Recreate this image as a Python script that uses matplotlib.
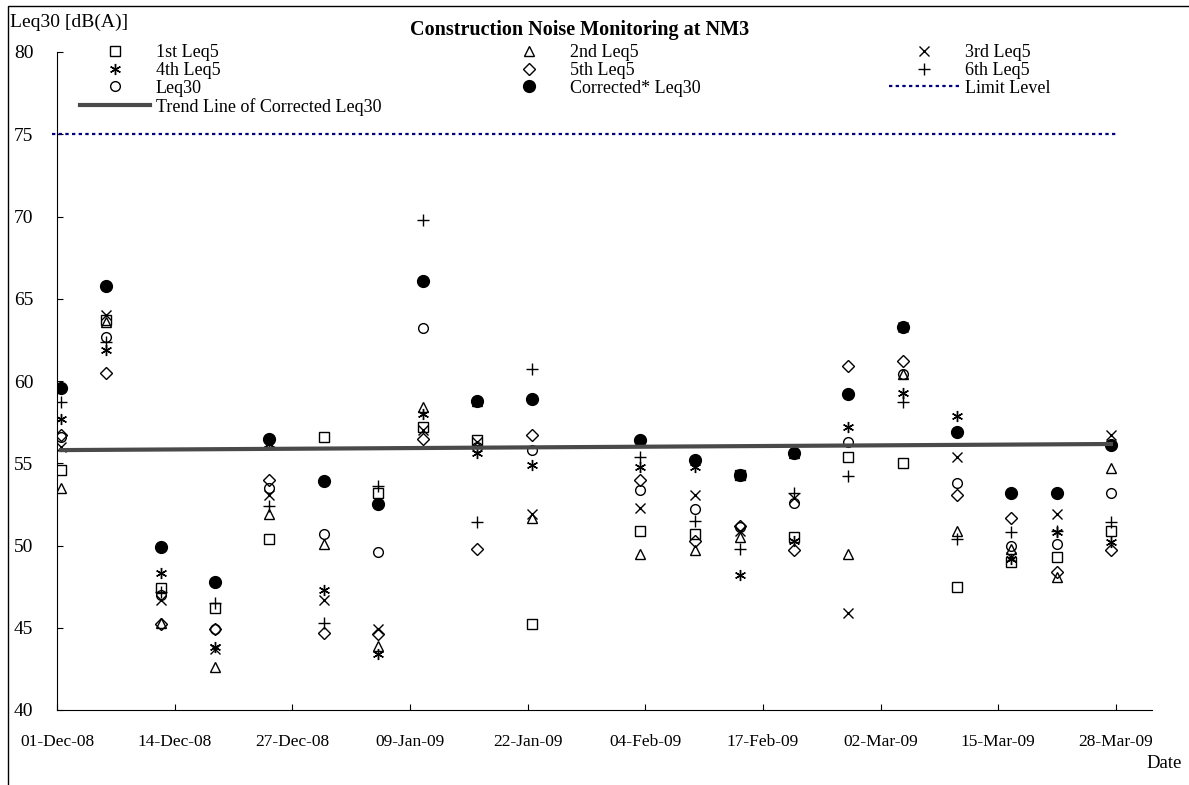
import datetime as dt
import matplotlib
matplotlib.use('Agg')
from matplotlib import pyplot as plt
import matplotlib.dates as mdates
from matplotlib.patches import Rectangle

plt.rcParams['font.family'] = ['Liberation Serif', 'DejaVu Serif']

# monitoring dates (readings taken late morning)
dates = [dt.datetime(2008, 12, 1, 11), dt.datetime(2008, 12, 6, 11), dt.datetime(2008, 12, 12, 11),
         dt.datetime(2008, 12, 18, 11), dt.datetime(2008, 12, 24, 11), dt.datetime(2008, 12, 30, 11),
         dt.datetime(2009, 1, 5, 11), dt.datetime(2009, 1, 10, 11), dt.datetime(2009, 1, 16, 11),
         dt.datetime(2009, 1, 22, 11), dt.datetime(2009, 2, 3, 11), dt.datetime(2009, 2, 9, 11),
         dt.datetime(2009, 2, 14, 11), dt.datetime(2009, 2, 20, 11), dt.datetime(2009, 2, 26, 11),
         dt.datetime(2009, 3, 4, 11), dt.datetime(2009, 3, 10, 11), dt.datetime(2009, 3, 16, 11),
         dt.datetime(2009, 3, 21, 11), dt.datetime(2009, 3, 27, 11)]

leq5_1 = [54.6, 63.7, 47.4, 46.2, 50.4, 56.6, 53.2, 57.2, 56.4, 45.2,
          50.9, 50.7, 54.3, 50.5, 55.4, 55.0, 47.5, 49.0, 49.3, 50.9]
leq5_2 = [53.5, 63.6, 45.3, 42.6, 51.9, 50.1, 43.9, 58.4, 58.8, 51.7,
          49.5, 49.7, 50.5, 55.6, 49.5, 60.4, 50.9, 49.8, 48.1, 54.7]
leq5_3 = [56.0, 64.0, 46.7, 43.7, 53.1, 46.7, 44.9, 57.0, 56.3, 51.9,
          52.3, 53.1, 50.9, 52.9, 45.9, 63.3, 55.4, 49.3, 51.9, 56.7]
leq5_4 = [57.7, 61.9, 48.3, 43.8, 56.2, 47.3, 43.4, 58.0, 55.6, 54.9,
          54.8, 54.8, 48.2, 50.3, 57.2, 59.3, 57.9, 49.2, 50.8, 50.2]
leq5_5 = [56.7, 60.5, 45.2, 44.9, 54.0, 44.7, 44.6, 56.5, 49.8, 56.7,
          54.0, 50.3, 51.2, 49.7, 60.9, 61.2, 53.1, 51.7, 48.4, 49.7]
leq5_6 = [58.7, 62.4, 47.2, 46.5, 52.4, 45.3, 53.6, 69.8, 51.4, 60.7,
          55.4, 51.5, 49.8, 53.2, 54.2, 58.7, 50.4, 50.8, 50.9, 51.4]
leq30 = [56.6, 62.7, 47.0, 44.9, 53.5, 50.7, 49.6, 63.2, 56.0, 55.8,
         53.4, 52.2, 51.1, 52.6, 56.3, 60.4, 53.8, 50.0, 50.1, 53.2]
leq30_corr = [59.6, 65.8, 49.9, 47.8, 56.5, 53.9, 52.5, 66.1, 58.8, 58.9,
              56.4, 55.2, 54.3, 55.6, 59.2, 63.3, 56.9, 53.2, 53.2, 56.1]

limit_dates = [dt.datetime(2008, 11, 30, 12), dt.datetime(2009, 3, 28)]
limit_level = [75, 75]
trend_dates = [dates[0], dates[-1]]
trend_vals = [55.8, 56.17]

W, H = 1189, 785
fig = plt.figure(figsize=(W / 100, H / 100), dpi=100)
ax = fig.add_axes([57 / W, 1 - 710 / H, (1152 - 57) / W, (710 - 52) / H])

# outer chart border
fig.add_artist(Rectangle((8 / W, -0.05), 1.2, 1 - 6 / H + 0.05, transform=fig.transFigure,
                         fill=False, edgecolor='black', linewidth=1.0))

mk = dict(linestyle='none', color='black', markerfacecolor='none', markeredgewidth=1.0)
h1, = ax.plot(dates, leq5_1, marker='s', markersize=6.5, label='1st Leq5', **mk)
h2, = ax.plot(dates, leq5_2, marker='^', markersize=7.5, label='2nd Leq5', **mk)
h3, = ax.plot(dates, leq5_3, marker='x', markersize=7, label='3rd Leq5', **mk)
h4, = ax.plot(dates, leq5_4, marker=(6, 2, 0), markersize=8, label='4th Leq5', **mk)
h5, = ax.plot(dates, leq5_5, marker='D', markersize=6, label='5th Leq5', **mk)
h6, = ax.plot(dates, leq5_6, marker='+', markersize=9, label='6th Leq5', **mk)
h7, = ax.plot(dates, leq30, marker='o', markersize=7, label='Leq30', **mk)
h8, = ax.plot(dates, leq30_corr, marker='o', markersize=8.5, linestyle='none', color='black',
              label='Corrected* Leq30')
h9, = ax.plot(limit_dates, limit_level, color='#000080', linestyle=(0, (1.5, 1.5)), linewidth=1.6,
              label='Limit Level', clip_on=False)
h10, = ax.plot(trend_dates, trend_vals, color='#4a4a4a', linewidth=3.0,
               label='Trend Line of Corrected Leq30')

ax.set_xlim(mdates.date2num(dt.datetime(2008, 12, 1)), mdates.date2num(dt.datetime(2009, 4, 1)))
ax.set_ylim(40, 80)
ax.set_yticks(range(40, 81, 5))
ticks = [dt.datetime(2008, 12, 1) + dt.timedelta(days=13 * i) for i in range(10)]
ax.set_xticks(mdates.date2num(ticks))
ax.xaxis.set_major_formatter(mdates.DateFormatter('%d-%b-%y'))
ax.spines['top'].set_visible(False)
ax.spines['right'].set_visible(False)
ax.tick_params(axis='both', direction='in', length=4, width=0.8)
ax.tick_params(axis='y', labelsize=14, pad=17)
ax.tick_params(axis='x', labelsize=12.5, pad=17)

fig.text(10 / W, 1 - 22 / H, 'Leq30 [dB(A)]', fontsize=14, ha='left', va='center')
fig.text(580 / W, 1 - 30 / H, 'Construction Noise Monitoring at NM3', fontsize=14.5,
         fontweight='bold', ha='center', va='center')
fig.text(1146 / W, 1 - 763 / H, 'Date', fontsize=13.5, ha='left', va='center')

leg_kw = dict(loc='upper left', frameon=False, fontsize=13, handlelength=3.9, handletextpad=0.3,
              borderpad=0, borderaxespad=0, labelspacing=0.05)
for hs, x0 in [([h1, h4, h7, h10], 80), ([h2, h5, h8], 494), ([h3, h6, h9], 889)]:
    fig.legend(handles=hs, bbox_to_anchor=(x0 / W, 1 - 44 / H), **leg_kw)

fig.savefig('out.png', dpi=100)
